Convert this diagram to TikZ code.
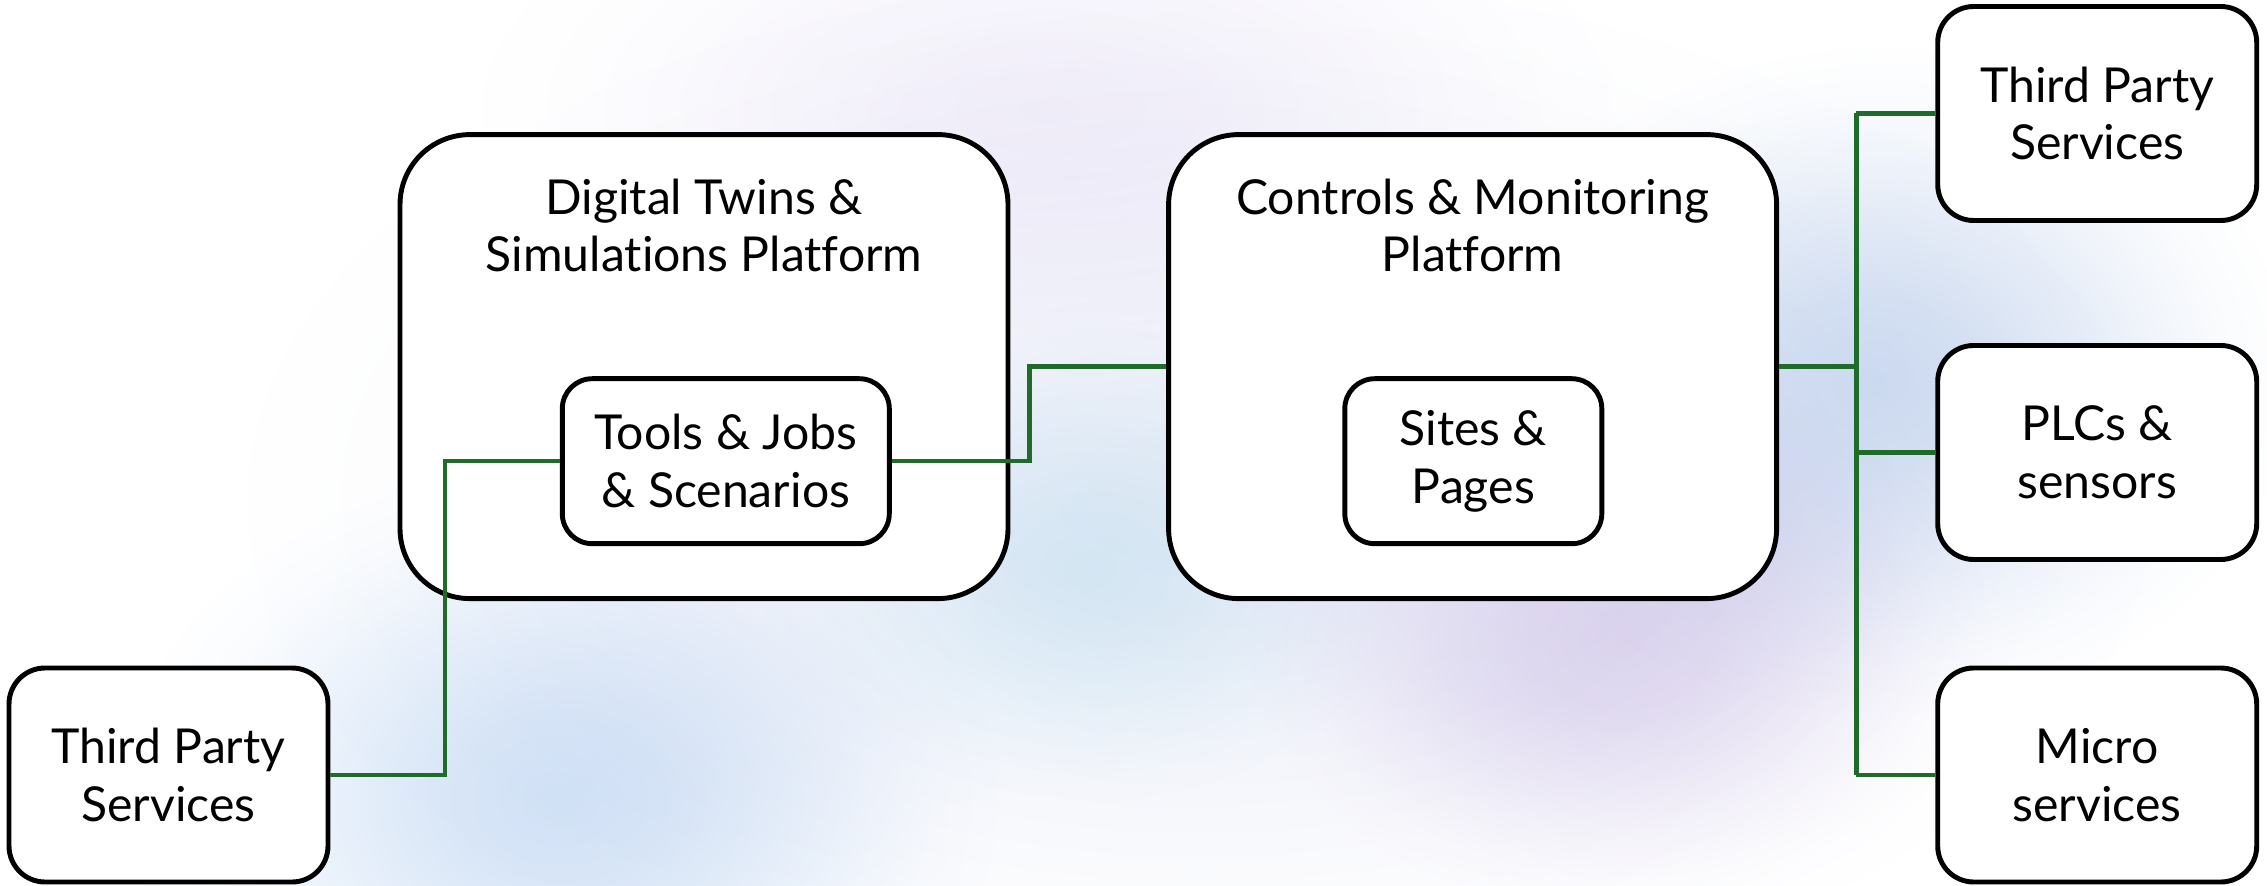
\documentclass[tikz,border=0pt]{standalone}
\usepackage{fontspec}
\setmainfont{Lato}[Ligatures=NoCommon]
\definecolor{lnk}{HTML}{1F6B2A}
\definecolor{bgblue}{HTML}{D2E2F6}
\definecolor{bgblue2}{HTML}{D0DDF1}
\definecolor{bglav}{HTML}{E4DBF1}
\definecolor{bgcyan}{HTML}{E4F5F9}
\definecolor{bgtint}{HTML}{ECEEF8}
\definecolor{bgtop}{HTML}{F3F0FA}
\newcommand\mkblob[2]{\pgfdeclareradialshading{#1}{\pgfpoint{0bp}{0bp}}{color(0bp)=(#2); color(6bp)=(#2!85!white); color(12bp)=(#2!55!white); color(17bp)=(#2!28!white); color(21bp)=(#2!10!white); color(25bp)=(white); color(50bp)=(white)}}
\mkblob{blobtint}{bgtint}
\mkblob{blobtop}{bgtop}
\mkblob{blobblue}{bgblue}
\mkblob{blobblueb}{bgblue2}
\mkblob{bloblav}{bglav}
\mkblob{blobcyan}{bgcyan}
\begin{document}
\begin{tikzpicture}[x=0.1mm,y=-0.1mm,
  txt/.style={font=\fontsize{13.7}{16.4}\selectfont, align=center},
  bigbox/.style={draw=black, line width=1.4pt, fill=white, rounded corners=7mm,
    minimum width=60.8mm, minimum height=46.4mm, inner sep=0pt},
  innerbox/.style={draw=black, line width=1.4pt, fill=white, rounded corners=3mm,
    minimum height=16.5mm, inner sep=0pt, txt},
  sidebox/.style={draw=black, line width=1.4pt, fill=white, rounded corners=3.6mm,
    minimum width=31.9mm, minimum height=21.4mm, inner sep=0pt, txt},
  conn/.style={draw=lnk, line width=1.2pt}]
\useasboundingbox (0,0) rectangle (2267,886);
% background
\fill[white] (0,0) rectangle (2267,886);
\begin{scope}[blend mode=multiply]
\shade[shading=blobtint] (1200,500) ellipse [x radius=100mm, y radius=55mm];
\shade[shading=blobtop] (1050,110) ellipse [x radius=60mm, y radius=28mm];
\shade[shading=blobblue] (560,800) ellipse [x radius=45mm, y radius=34mm];
\shade[shading=blobblueb] (1880,380) ellipse [x radius=42mm, y radius=34mm];
\shade[shading=bloblav] (1620,640) ellipse [x radius=38mm, y radius=28mm];
\shade[shading=blobcyan] (1090,570) ellipse [x radius=34mm, y radius=25mm];
\end{scope}
% boxes
\node[bigbox] (dt) at (704,366.6) {};
\node[txt] (dtt) at (704,225.5) {Digital Twins \&\\Simulations Platform};
\node[bigbox] (cm) at (1472.6,366.6) {};
\node[txt] (cmt) at (1472.6,225.5) {Controls \& Monitoring\\Platform};
\node[innerbox, minimum width=32.7mm] (tools) at (725.8,461.2) {Tools \& Jobs\\\& Scenarios};
\node[innerbox, minimum width=25.7mm] (sites) at (1473.3,461.2) {Sites \&\\Pages};
\node[sidebox] (tps) at (2097.2,113.5) {Third Party\\Services};
\node[sidebox] (plc) at (2097.2,452.5) {PLCs \&\\sensors};
\node[sidebox] (mic) at (2097.2,775) {Micro\\services};
\node[sidebox] (lts) at (168.5,775) {Third Party\\Services};
% junction columns
\coordinate (jl) at (445.3,0);
\coordinate (jm) at (1029.4,0);
\coordinate (jr) at (1856.4,0);
% connectors
\draw[conn] (lts.east) -- (lts.east -| jl) -- (tools.west -| jl) -- (tools.west);
\draw[conn] (tools.east) -- (tools.east -| jm) -- (cm.west -| jm) -- (cm.west);
\draw[conn] (cm.east) -- (cm.east -| jr);
\draw[conn] (tps.west -| jr) -- (mic.west -| jr);
\draw[conn] (tps.west -| jr) -- (tps.west);
\draw[conn] (plc.west -| jr) -- (plc.west);
\draw[conn] (mic.west -| jr) -- (mic.west);
\end{tikzpicture}
\end{document}
